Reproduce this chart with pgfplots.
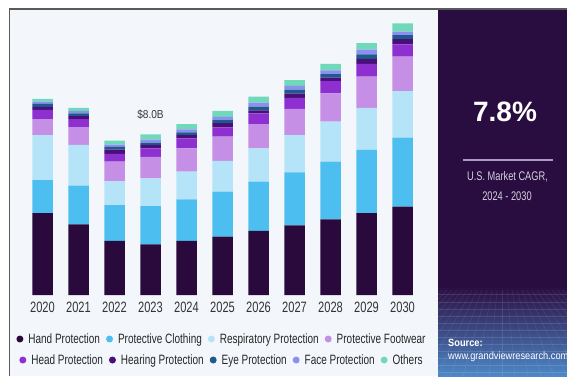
\documentclass[border=0pt]{standalone}
\usepackage{pgfplots}
\pgfplotsset{compat=1.18}
\usepackage{pgfplotstable}
\usetikzlibrary{calc}
\usepackage{fontspec}
\setmainfont{Liberation Sans}
\newfontfamily\cond[FakeStretch=0.74]{Liberation Sans}
\newfontfamily\condb[FakeStretch=0.88]{Liberation Sans}

\pgfdeclarelayer{bg}
\pgfsetlayers{bg,main}

\definecolor{cHand}{HTML}{2A0A3C}
\definecolor{cCloth}{HTML}{4DBEF0}
\definecolor{cResp}{HTML}{B5E4F9}
\definecolor{cFoot}{HTML}{C48FE5}
\definecolor{cHead}{HTML}{8E30CF}
\definecolor{cHear}{HTML}{4A0F7A}
\definecolor{cEye}{HTML}{1E5B8C}
\definecolor{cFace}{HTML}{8C8EF2}
\definecolor{cOth}{HTML}{6FD9B9}
\definecolor{panelbg}{HTML}{F3F7FC}
\definecolor{darkp}{HTML}{2A0D40}
\definecolor{gridblue}{HTML}{4E88C8}
\definecolor{lav}{HTML}{A89CC0}
\definecolor{txtgray}{HTML}{D4D0DC}
\definecolor{bordergray}{HTML}{5A5A5A}

\pgfplotstableread{
x hand cloth resp foot head hear eye face oth
0 4.07 1.65 2.24 0.79 0.46 0.16 0.14 0.11 0.14
1 3.52 1.92 2.03 0.89 0.39 0.16 0.13 0.13 0.15
2 2.70 1.78 1.19 0.97 0.38 0.22 0.13 0.12 0.20
3 2.52 1.91 1.38 1.07 0.42 0.17 0.12 0.15 0.26
4 2.69 2.07 1.38 1.16 0.50 0.16 0.13 0.16 0.26
5 2.90 2.24 1.54 1.20 0.47 0.20 0.16 0.16 0.30
6 3.19 2.45 1.66 1.21 0.53 0.15 0.19 0.19 0.30
7 3.47 2.64 1.85 1.30 0.55 0.21 0.20 0.19 0.29
8 3.77 2.87 1.99 1.41 0.61 0.17 0.17 0.19 0.33
9 4.07 3.15 2.10 1.55 0.63 0.25 0.23 0.23 0.33
10 4.40 3.43 2.32 1.71 0.62 0.26 0.20 0.17 0.41
}\datatable

\pgfplotsset{
  circleleg/.style={legend image code/.code={\fill[##1] (3.5pt,0pt) circle (3.5pt);}},
  mylegend/.style={legend style={at={(0.4988,#1)}, anchor=center, draw=none, fill=none,
     legend columns=-1, font=\cond\fontsize{13.5}{13.5}\selectfont, text=black!85,
     /tikz/every odd column/.append style={column sep=3pt},
     /tikz/every even column/.append style={column sep=4pt}}},
  baseaxis/.style={scale only axis,
     width=432pt, height=287pt, xmin=-1, xmax=11, ymin=0, ymax=14.286},
}

\begin{document}
\begin{tikzpicture}[x=1pt,y=1pt]
\begin{axis}[baseaxis, name=main,
  ybar stacked, bar width=20.5pt,
  xtick={0,1,2,3,4,5,6,7,8,9,10},
  xticklabels={2020,2021,2022,2023,2024,2025,2026,2027,2028,2029,2030},
  ytick=\empty,
  axis line style={draw=none}, tick style={draw=none},
  xticklabel style={font=\cond\fontsize{15}{15}\selectfont, text=black!80, anchor=base, yshift=-17.7pt},
  circleleg, mylegend=-0.1533,
]
\addplot[fill=cHand, draw=none, circleleg] table[x=x,y=hand]{\datatable};
\addlegendentry{Hand Protection}
\addplot[fill=cCloth, draw=none, circleleg] table[x=x,y=cloth]{\datatable};
\addlegendentry{Protective Clothing}
\addplot[fill=cResp, draw=none, circleleg] table[x=x,y=resp]{\datatable};
\addlegendentry{Respiratory Protection}
\addplot[fill=cFoot, draw=none, circleleg] table[x=x,y=foot]{\datatable};
\addlegendentry{Protective Footwear}
\addplot[fill=cHead, draw=none] table[x=x,y=head]{\datatable};
\addplot[fill=cHear, draw=none] table[x=x,y=hear]{\datatable};
\addplot[fill=cEye, draw=none] table[x=x,y=eye]{\datatable};
\addplot[fill=cFace, draw=none] table[x=x,y=face]{\datatable};
\addplot[fill=cOth, draw=none] table[x=x,y=oth]{\datatable};
\node[anchor=base, font=\condb\fontsize{11.5}{11.5}\selectfont, text=black!78] at (axis cs:3,8.8) {\$8.0B};
\coordinate (O) at (axis cs:-1,0);
\end{axis}

\begin{axis}[baseaxis, at={(main.south west)}, anchor=south west, hide axis, circleleg, mylegend=-0.2265]
\addlegendimage{fill=cHead, draw=none}
\addlegendentry{Head Protection}
\addlegendimage{fill=cHear, draw=none}
\addlegendentry{Hearing Protection}
\addlegendimage{fill=cEye, draw=none}
\addlegendentry{Eye Protection}
\addlegendimage{fill=cFace, draw=none}
\addlegendentry{Face Protection}
\addlegendimage{fill=cOth, draw=none}
\addlegendentry{Others}
\end{axis}

\begin{scope}[shift={($(O)-(6.5,81)$)}]
\begin{pgfonlayer}{bg}
\fill[white] (0,0) rectangle (567,376);
\fill[panelbg] (9.3,0) rectangle (438,367);
\fill[darkp] (438,0) rectangle (567,367);
\shade[top color=darkp, bottom color=gridblue] (438,0) rectangle (567,90);
\foreach \y in {82,74,67,60,53,46,39,32,25,18,11,4}
  \draw[white, opacity=0.12, line width=0.4pt] (438,\y) -- (567,\y);
\begin{scope}
\clip (438,0) rectangle (567,90);
\foreach \i in {-14,...,14}
  \draw[white, opacity=0.10, line width=0.4pt] (502+\i*5,86) -- (502+\i*13,0);
\end{scope}
\draw[bordergray, line width=1.4pt] (9.3,367) -- (567,367);
\draw[bordergray, line width=1.2pt] (9.3,0) -- (9.3,367.7);
\node[anchor=base, text=white, font=\bfseries\fontsize{28}{28}\selectfont] at (505,254.3) {7.8\%};
\draw[lav, line width=1.3pt] (463,216) -- (553,216);
\node[anchor=base, text=txtgray, font=\cond\fontsize{12.5}{12.5}\selectfont] at (507.5,196) {U.S. Market CAGR,};
\node[anchor=base, text=txtgray, font=\cond\fontsize{12.5}{12.5}\selectfont] at (507,176) {2024 - 2030};
\node[anchor=base west, inner sep=0pt, text=white, font=\condb\bfseries\fontsize{10.5}{10.5}\selectfont] at (448,30) {Source:};
\begin{scope}
\clip (438,0) rectangle (567,376);
\node[anchor=base west, inner sep=0pt, text=white, font=\condb\fontsize{10.5}{10.5}\selectfont] at (448,17) {www.grandviewresearch.com};
\end{scope}
\end{pgfonlayer}
\end{scope}
\pgfresetboundingbox
\path[use as bounding box] ($(O)-(6.5,81)$) rectangle ++(567,376);
\end{tikzpicture}
\end{document}
